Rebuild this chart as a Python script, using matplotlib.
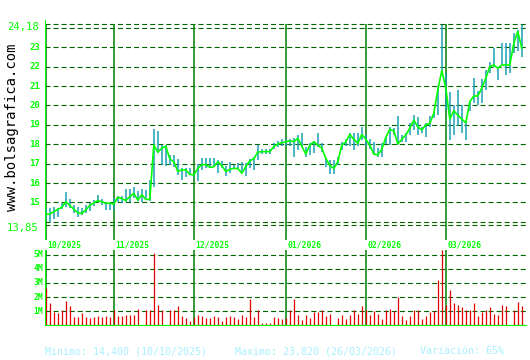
import matplotlib
matplotlib.use('Agg')
import matplotlib.pyplot as plt
from matplotlib.transforms import blended_transform_factory as btf

plt.rcParams['lines.scale_dashes'] = False

close = [14.39, 14.40, 14.53, 14.65, 14.75, 15.04, 14.85, 14.65, 14.47, 14.44,
         14.61, 14.85, 14.98, 15.10, 15.04, 14.96, 14.96, 14.92, 15.27, 15.20,
         15.10, 15.30, 15.47, 15.13, 15.40, 15.16, 15.16, 17.96, 17.60, 17.80,
         17.90, 17.25, 17.10, 16.60, 16.68, 16.68, 16.45, 16.42, 16.76, 16.95,
         16.95, 16.81, 16.84, 17.10, 16.90, 16.60, 16.71, 16.76, 16.75, 16.51,
         16.85, 17.15, 17.25, 17.60, 17.62, 17.62, 17.62, 17.88, 18.02, 18.08,
         18.13, 18.18, 18.13, 18.31, 17.90, 17.50, 17.95, 18.13, 17.96, 17.80,
         17.28, 16.90, 16.76, 17.10, 17.95, 18.13, 18.51, 18.26, 18.05, 18.51,
         18.26, 17.95, 17.50, 17.45, 17.75, 18.36, 18.77, 18.70, 18.02, 18.26,
         18.48, 18.82, 19.25, 18.90, 18.74, 19.00, 19.08, 19.60, 20.80, 21.80,
         20.90, 19.30, 19.73, 19.50, 19.30, 19.11, 20.20, 20.49, 20.49, 20.90,
         21.40, 22.00, 22.09, 21.92, 22.09, 22.09, 22.09, 23.20, 23.82, 22.95]

high = [14.70, 14.70, 14.75, 14.70, 14.96, 15.56, 15.18, 14.87, 14.78, 14.70,
        14.87, 14.99, 15.13, 15.39, 15.16, 15.04, 14.99, 15.22, 15.34, 15.34,
        15.70, 15.70, 15.81, 15.61, 15.68, 15.64, 16.16, 18.78, 18.70, 17.96,
        17.96, 17.45, 17.45, 17.23, 16.76, 16.76, 16.76, 16.50, 17.00, 17.28,
        17.28, 17.28, 17.28, 17.19, 17.15, 16.88, 17.10, 16.93, 17.02, 17.10,
        17.02, 17.23, 17.33, 17.96, 17.75, 17.75, 17.75, 18.05, 18.19, 18.26,
        18.26, 18.26, 18.31, 18.48, 18.60, 17.88, 18.05, 18.19, 18.57, 18.05,
        17.28, 17.19, 17.19, 17.36, 18.13, 18.26, 18.57, 18.60, 18.60, 18.88,
        18.48, 18.26, 18.14, 17.79, 18.05, 18.39, 18.91, 18.82, 19.46, 18.48,
        18.57, 19.08, 19.51, 19.39, 18.91, 19.08, 19.46, 19.68, 20.97, 24.15,
        21.66, 20.70, 20.03, 20.80, 20.03, 19.17, 20.20, 21.40, 20.76, 21.35,
        21.83, 22.26, 22.95, 22.00, 23.24, 23.21, 23.21, 23.72, 23.90, 24.15]

low = [14.10, 14.01, 14.13, 14.27, 14.65, 14.75, 14.70, 14.44, 14.27, 14.36,
       14.47, 14.58, 14.82, 15.04, 14.87, 14.61, 14.61, 14.61, 15.04, 14.99,
       15.04, 15.04, 15.22, 15.09, 15.04, 15.22, 15.10, 15.80, 17.54, 16.93,
       16.88, 16.93, 16.85, 16.42, 16.16, 16.33, 16.42, 16.33, 16.11, 16.67,
       16.76, 16.76, 16.85, 16.54, 16.76, 16.37, 16.54, 16.71, 16.71, 16.50,
       16.37, 16.76, 16.67, 17.19, 17.50, 17.50, 17.50, 17.74, 17.85, 17.91,
       17.91, 17.91, 17.33, 17.71, 17.88, 17.36, 17.45, 17.54, 17.88, 17.62,
       16.85, 16.47, 16.47, 16.93, 17.71, 17.91, 17.91, 17.71, 17.91, 18.22,
       17.91, 17.74, 17.45, 17.36, 17.36, 18.02, 17.96, 18.48, 17.96, 18.14,
       18.14, 18.48, 18.74, 18.48, 18.57, 18.39, 18.88, 19.34, 19.51, 21.66,
       19.77, 18.22, 18.48, 18.94, 18.57, 18.22, 19.73, 20.11, 20.03, 20.11,
       20.80, 21.66, 22.00, 21.31, 22.09, 21.57, 21.66, 22.69, 22.82, 22.52]

volume = [2.66, 1.57, 0.93, 0.86, 1.12, 1.69, 1.36, 0.62, 0.62, 0.86,
          0.62, 0.55, 0.62, 0.69, 0.62, 0.69, 0.57, 1.05, 0.69, 0.69,
          0.76, 0.76, 0.76, 1.17, 0.03, 1.05, 1.05, 5.12, 1.47, 1.09,
          0.03, 1.05, 1.12, 1.40, 0.69, 0.50, 0.27, 0.62, 0.76, 0.69,
          0.50, 0.50, 0.69, 0.57, 0.34, 0.62, 0.69, 0.57, 0.43, 0.76,
          0.57, 1.83, 0.62, 1.12, 0.15, 0.15, 0.15, 0.62, 0.55, 0.48,
          0.53, 1.12, 1.83, 0.76, 0.41, 0.76, 0.55, 0.93, 0.93, 1.12,
          0.69, 0.83, 0.02, 0.55, 0.76, 0.48, 0.76, 1.12, 0.83, 1.36,
          1.05, 0.76, 1.00, 0.83, 0.48, 1.05, 1.19, 1.00, 1.99, 0.69,
          0.41, 0.69, 1.12, 1.12, 0.48, 0.69, 0.93, 0.98, 3.18, 5.31,
          1.47, 2.47, 1.57, 1.47, 1.28, 1.12, 1.12, 1.57, 0.69, 0.93,
          1.12, 1.28, 0.83, 0.76, 1.47, 1.36, 0.02, 1.05, 1.64, 1.40]

month_labels = ['10/2025', '11/2025', '12/2025', '01/2026', '02/2026', '03/2026']
month_start = [0, 17, 37, 60, 80, 100]

price_ticks = [15, 16, 17, 18, 19, 20, 21, 22, 23]
price_lo, price_hi = 13.85, 24.18
price_lo_label, price_hi_label = '13,85', '24,18'
frame_lines = [14.02, 24.02]

vol_ticks = [1, 2, 3, 4, 5]
vol_tick_labels = ['1M', '2M', '3M', '4M', '5M']

footer = ['Minimo: 14,400 (10/10/2025)', 'Maximo: 23,820 (26/03/2026)', 'Variación: 65%']
watermark = 'www.bolsagrafica.com'

W, H = 530, 360
fig = plt.figure(figsize=(W / 100, H / 100), dpi=100)
fig.patch.set_facecolor('white')

def fx(px):
    return px / W

def fy(py):
    return 1 - py / H

GRID = '#006400'
MONTH = '#008000'
BRIGHT = '#00ff00'
TEAL = '#1aa0b4'
RED = '#e00000'
MONO = 'DejaVu Sans Mono'
DASH = (0, (3.6, 2.2))

x = list(range(len(close)))
XL = (-0.2, 120.3)

# ---------- price panel ----------
ax = fig.add_axes([fx(45), fy(240), fx(527) - fx(45), fy(20) - fy(240)])
ax.set_xlim(*XL)
ax.set_ylim(13.067, 24.407)
ax.axis('off')

for v in price_ticks + [price_lo, price_hi] + frame_lines:
    ax.axhline(v, color=GRID, lw=0.8, ls=DASH, zorder=1)
for m in month_start:
    ax.plot([m, m], [ax.get_ylim()[0], price_hi + 0.02], color=MONTH, lw=1.1, zorder=2,
            solid_capstyle='butt')
ax.axvline(XL[0], color=BRIGHT, lw=1.4, zorder=5)

ax.vlines(x, low, high, color=TEAL, lw=1.1, zorder=3)
ax.plot(x, close, color=BRIGHT, lw=1.2, zorder=4)

tr = btf(fig.transFigure, ax.transData)
for v in price_ticks:
    ax.text(fx(40), v, str(v), transform=tr, ha='right', va='center', color=BRIGHT,
            fontsize=6.5, family=MONO, fontweight='bold')
ax.text(fx(39), price_hi - 0.12, price_hi_label, transform=tr, ha='right', va='center',
        color=BRIGHT, fontsize=7.6, family=MONO)
ax.text(fx(39), price_lo - 0.15, price_lo_label, transform=tr, ha='right', va='center',
        color=BRIGHT, fontsize=7.6, family=MONO)

# month labels
trm = btf(ax.transData, fig.transFigure)
for m, lab in zip(month_start, month_labels):
    ax.text(m + 0.3, fy(244.5), lab, transform=trm, ha='left', va='center',
            color=BRIGHT, fontsize=5.8, family=MONO, fontweight='bold', clip_on=False)

# ---------- volume panel ----------
av = fig.add_axes([fx(45), fy(326), fx(527) - fx(45), fy(250) - fy(326)])
av.set_xlim(*XL)
av.set_ylim(-0.05, 5.34)
av.axis('off')
for v in vol_ticks:
    av.axhline(v, color=GRID, lw=0.8, ls=DASH, zorder=1)
for m in month_start:
    av.axvline(m, color=MONTH, lw=1.1, zorder=2)
av.vlines(x, 0, volume, color=RED, lw=0.9, zorder=3)
av.axhline(-0.02, color=BRIGHT, lw=1.6, zorder=5)
av.axvline(XL[0], color=BRIGHT, lw=1.4, zorder=5)
trv = btf(fig.transFigure, av.transData)
for v, lab in zip(vol_ticks, vol_tick_labels):
    av.text(fx(43), v, lab, transform=trv, ha='right', va='center', color=BRIGHT,
            fontsize=5.8, family=MONO, fontweight='bold')

# ---------- footer & watermark ----------
for px, t in zip([45, 235, 420], footer):
    fig.text(fx(px), fy(351), t, ha='left', va='center', color='#a8f0ff',
             fontsize=7.2, family=MONO)
fig.text(fx(12.5), fy(127), watermark, rotation=90, ha='center', va='center',
         color='black', fontsize=10, family=MONO)

fig.savefig('out.png', dpi=100, facecolor='white')
